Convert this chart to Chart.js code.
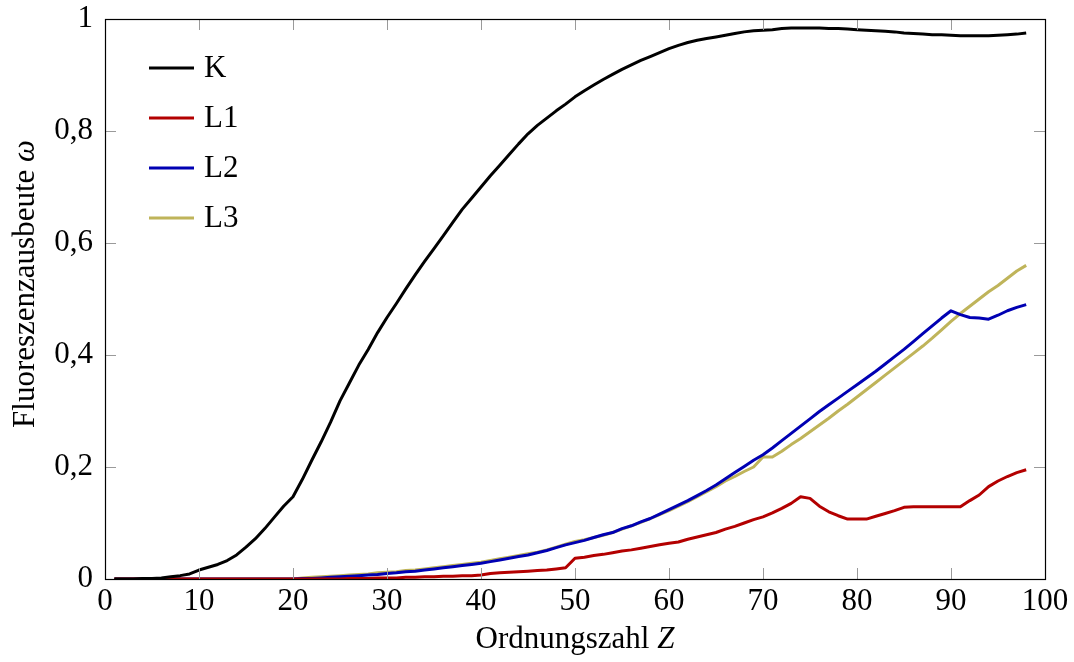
<!DOCTYPE html>
<html>
<head>
<meta charset="utf-8">
<script src="https://cdn.jsdelivr.net/npm/chart.js@4"></script>
<style>
  html, body { margin: 0; padding: 0; background: #fff; }
  #wrap { width: 1074px; height: 662px; }
</style>
</head>
<body>
<div id="wrap"><canvas id="chart" width="1074" height="662"></canvas></div>
<script>
// Ordnungszahl Z
const Z = [1, 2, 3, 4, 5, 6, 7, 8, 9, 10, 11, 12, 13, 14, 15, 16, 17, 18, 19, 20,
  21, 22, 23, 24, 25, 26, 27, 28, 29, 30, 31, 32, 33, 34, 35, 36, 37, 38, 39, 40,
  41, 42, 43, 44, 45, 46, 47, 48, 49, 50, 51, 52, 53, 54, 55, 56, 57, 58, 59, 60,
  61, 62, 63, 64, 65, 66, 67, 68, 69, 70, 71, 72, 73, 74, 75, 76, 77, 78, 79, 80,
  81, 82, 83, 84, 85, 86, 87, 88, 89, 90, 91, 92, 93, 94, 95, 96, 97, 98];

// Fluoreszenzausbeute der Schalen
const K = [0, 0, 0, 0.001, 0.001, 0.002, 0.004, 0.006, 0.009, 0.016,
  0.021, 0.026, 0.033, 0.043, 0.057, 0.072, 0.09, 0.11, 0.13, 0.147,
  0.178, 0.212, 0.245, 0.28, 0.318, 0.35, 0.382, 0.41, 0.44, 0.467,
  0.492, 0.518, 0.543, 0.567, 0.59, 0.613, 0.637, 0.66, 0.68, 0.70,
  0.72, 0.739, 0.758, 0.777, 0.795, 0.81, 0.823, 0.836, 0.848, 0.861,
  0.872, 0.882, 0.892, 0.901, 0.91, 0.918, 0.926, 0.933, 0.94, 0.947,
  0.953, 0.958, 0.962, 0.965, 0.968, 0.971, 0.974, 0.977, 0.979, 0.98,
  0.981, 0.983, 0.984, 0.984, 0.984, 0.984, 0.983, 0.983, 0.982, 0.981,
  0.98, 0.979, 0.978, 0.977, 0.975, 0.974, 0.973, 0.972, 0.972, 0.971,
  0.97, 0.97, 0.97, 0.97, 0.971, 0.972, 0.973, 0.975];

const L1 = [0, 0, 0, 0, 0, 0, 0, 0, 0, 0,
  0, 0, 0, 0, 0, 0, 0, 0, 0, 0,
  0, 0, 0, 0, 0, 0.001, 0.001, 0.001, 0.002, 0.002,
  0.002, 0.003, 0.003, 0.004, 0.004, 0.005, 0.005, 0.006, 0.006, 0.007,
  0.010, 0.011, 0.012, 0.013, 0.014, 0.015, 0.016, 0.018, 0.020, 0.037,
  0.039, 0.042, 0.044, 0.047, 0.05, 0.052, 0.055, 0.058, 0.061, 0.064,
  0.066, 0.071, 0.075, 0.079, 0.083, 0.089, 0.094, 0.1, 0.106, 0.111,
  0.118, 0.126, 0.135, 0.147, 0.144, 0.13, 0.12, 0.113, 0.107, 0.107,
  0.107, 0.112, 0.117, 0.122, 0.128, 0.129, 0.129, 0.129, 0.129, 0.129,
  0.129, 0.14, 0.15, 0.165, 0.175, 0.183, 0.19, 0.195];

const L2 = [0, 0, 0, 0, 0, 0, 0, 0, 0, 0,
  0, 0, 0, 0, 0, 0, 0, 0, 0, 0,
  0.001, 0.001, 0.002, 0.003, 0.004, 0.005, 0.006, 0.007, 0.008, 0.01,
  0.011, 0.013, 0.014, 0.016, 0.018, 0.02, 0.022, 0.024, 0.026, 0.028,
  0.031, 0.034, 0.037, 0.04, 0.043, 0.047, 0.051, 0.056, 0.061, 0.065,
  0.069, 0.074, 0.079, 0.083, 0.09, 0.095, 0.102, 0.108, 0.116, 0.124,
  0.132, 0.14, 0.149, 0.158, 0.168, 0.179, 0.19, 0.201, 0.212, 0.222,
  0.234, 0.247, 0.26, 0.273, 0.286, 0.299, 0.311, 0.323, 0.335, 0.347,
  0.359, 0.371, 0.384, 0.397, 0.41, 0.424, 0.438, 0.452, 0.466, 0.479,
  0.472, 0.467, 0.466, 0.464, 0.471, 0.479, 0.485, 0.49];

const L3 = [0, 0, 0, 0, 0, 0, 0, 0, 0, 0,
  0, 0, 0, 0, 0, 0, 0, 0, 0, 0,
  0.002, 0.003, 0.004, 0.005, 0.006, 0.007, 0.008, 0.009, 0.011, 0.012,
  0.013, 0.015, 0.016, 0.018, 0.02, 0.022, 0.024, 0.026, 0.028, 0.03,
  0.033, 0.036, 0.039, 0.042, 0.045, 0.048, 0.052, 0.057, 0.062, 0.067,
  0.07, 0.074, 0.078, 0.083, 0.089, 0.095, 0.101, 0.108, 0.115, 0.122,
  0.13, 0.138, 0.147, 0.156, 0.165, 0.175, 0.183, 0.192, 0.2, 0.218,
  0.218, 0.228, 0.24, 0.251, 0.263, 0.275, 0.287, 0.3, 0.312, 0.325,
  0.338, 0.351, 0.364, 0.377, 0.39, 0.403, 0.416, 0.43, 0.445, 0.46,
  0.474, 0.487, 0.5, 0.513, 0.524, 0.537, 0.55, 0.56];

const xTicks = [0, 10, 20, 30, 40, 50, 60, 70, 80, 90, 100];
const yTicks = [0, 0.2, 0.4, 0.6, 0.8, 1];

const FONT = "'Liberation Serif', 'DejaVu Serif', serif";
const FS = 31;

const fmtY = (v) => {
    const r = Math.round(v * 10) / 10;
    if (r === 0 || r === 1) return String(r);
    return r.toFixed(1).replace('.', ',');
};

const toPts = (vals) => Z.map((z, i) => ({ x: z, y: vals[i] }));

// pgfplots-artiger Rahmen, Ticks innen, Legende und Achsentitel
const decor = {
    id: 'decor',
    afterDraw(chart) {
        const { ctx, chartArea: a, scales } = chart;
        ctx.save();

        // Ticks (innen, grau)
        ctx.strokeStyle = '#9a9a9a';
        ctx.lineWidth = 1;
        const tl = 11;
        xTicks.forEach(v => {
            const px = Math.round(scales.x.getPixelForValue(v)) + 0.5;
            ctx.beginPath();
            ctx.moveTo(px, a.bottom); ctx.lineTo(px, a.bottom - tl);
            ctx.moveTo(px, a.top); ctx.lineTo(px, a.top + tl);
            ctx.stroke();
        });
        yTicks.forEach(v => {
            const py = Math.round(scales.y.getPixelForValue(v)) + 0.5;
            ctx.beginPath();
            ctx.moveTo(a.left, py); ctx.lineTo(a.left + tl, py);
            ctx.moveTo(a.right, py); ctx.lineTo(a.right - tl, py);
            ctx.stroke();
        });

        // Rahmen
        ctx.strokeStyle = '#000';
        ctx.lineWidth = 1.2;
        ctx.strokeRect(Math.round(a.left) + 0.5, Math.round(a.top) + 0.5,
            Math.round(a.right - a.left), Math.round(a.bottom - a.top));

        // Legende
        ctx.font = `${FS}px ${FONT}`;
        ctx.textBaseline = 'middle';
        ctx.textAlign = 'left';
        chart.data.datasets.forEach((ds, i) => {
            const y = 68 + i * 50;
            ctx.strokeStyle = ds.borderColor;
            ctx.lineWidth = 3;
            ctx.beginPath();
            ctx.moveTo(149, y); ctx.lineTo(194, y);
            ctx.stroke();
            ctx.fillStyle = '#000';
            ctx.fillText(ds.label, 204, y + 1);
        });

        // x-Achsentitel
        ctx.textBaseline = 'alphabetic';
        const xa = 'Ordnungszahl ';
        const xb = 'Z';
        ctx.font = `${FS}px ${FONT}`;
        const wa = ctx.measureText(xa).width;
        ctx.font = `italic ${FS}px ${FONT}`;
        const wb = ctx.measureText(xb).width;
        const cx = (a.left + a.right) / 2;
        let sx = cx - (wa + wb) / 2;
        ctx.font = `${FS}px ${FONT}`;
        ctx.fillText(xa, sx, 648);
        ctx.font = `italic ${FS}px ${FONT}`;
        ctx.fillText(xb, sx + wa, 648);

        // y-Achsentitel
        const ya = 'Fluoreszenzausbeute ';
        const yb = 'ω';
        ctx.font = `${FS}px ${FONT}`;
        const va = ctx.measureText(ya).width;
        ctx.font = `italic ${FS}px ${FONT}`;
        const vb = ctx.measureText(yb).width;
        ctx.translate(34, 284);
        ctx.rotate(-Math.PI / 2);
        const sy = -(va + vb) / 2;
        ctx.font = `${FS}px ${FONT}`;
        ctx.fillText(ya, sy, 0);
        ctx.font = `italic ${FS}px ${FONT}`;
        ctx.fillText(yb, sy + va, 0);

        ctx.restore();
    }
};

new Chart(document.getElementById('chart'), {
    type: 'line',
    data: {
        datasets: [
            { label: 'K', data: toPts(K), borderColor: '#000000' },
            { label: 'L1', data: toPts(L1), borderColor: '#b30000' },
            { label: 'L2', data: toPts(L2), borderColor: '#0000b3' },
            { label: 'L3', data: toPts(L3), borderColor: '#bfb45a' }
        ]
    },
    options: {
        responsive: false,
        animation: false,
        layout: { padding: { top: 19, right: 29, left: 0, bottom: 0 } },
        elements: {
            point: { radius: 0 },
            line: { borderWidth: 3, tension: 0, fill: false, borderJoinStyle: 'round' }
        },
        plugins: { legend: { display: false }, tooltip: { enabled: false } },
        scales: {
            x: {
                type: 'linear', min: 0, max: 100,
                afterBuildTicks: (s) => { s.ticks = xTicks.map(v => ({ value: v })); },
                afterFit: (s) => { s.height = 83; s.paddingLeft = 0; s.paddingRight = 0; },
                grid: { display: false, drawTicks: false },
                border: { display: false },
                ticks: { color: '#000', padding: 4, maxRotation: 0, autoSkip: false,
                    font: { family: FONT, size: FS } }
            },
            y: {
                min: 0, max: 1,
                afterBuildTicks: (s) => { s.ticks = yTicks.map(v => ({ value: v })); },
                afterFit: (s) => { s.width = 105; s.paddingTop = 0; s.paddingBottom = 0; },
                grid: { display: false, drawTicks: false },
                border: { display: false },
                ticks: { color: '#000', padding: 12, callback: fmtY,
                    font: { family: FONT, size: FS } }
            }
        }
    },
    plugins: [decor]
});
</script>
</body>
</html>
